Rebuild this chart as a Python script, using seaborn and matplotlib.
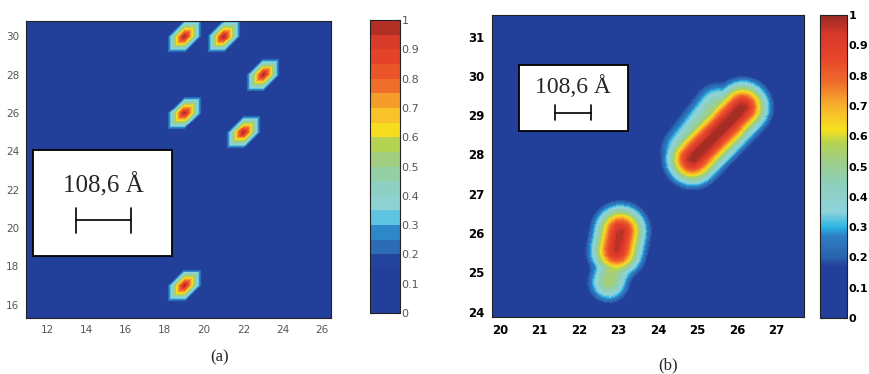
import numpy as np
import matplotlib
matplotlib.use("Agg")
import matplotlib.pyplot as plt
import matplotlib.tri as mtri
from matplotlib.colors import LinearSegmentedColormap, Normalize
from matplotlib.cm import ScalarMappable
from matplotlib.patches import Rectangle
import seaborn as sns

# Panel (a): isolated peaks sitting on the unit grid
peaks_a_x = [19, 21, 23, 19, 22, 19]
peaks_a_y = [30, 30, 28, 26, 25, 17]
peaks_a_val = [1.0, 1.0, 1.0, 1.0, 1.0, 1.0]

# Panel (b): elongated ridges, segment (x0, y0) -> (x1, y1), width and height
ridges_b_x0 = [24.87, 24.75, 23.05, 22.9]
ridges_b_y0 = [27.88, 28.10, 26.05, 25.2]
ridges_b_x1 = [26.14, 25.55, 22.95, 22.75]
ridges_b_y1 = [29.20, 29.15, 25.55, 24.75]
ridges_b_sigma = [0.42, 0.45, 0.42, 0.35]
ridges_b_amp = [1.0, 0.55, 0.97, 0.55]

cbar_ticks = [0, 0.1, 0.2, 0.3, 0.4, 0.5, 0.6, 0.7, 0.8, 0.9, 1]
cbar_labels = ['0', '0.1', '0.2', '0.3', '0.4', '0.5', '0.6', '0.7', '0.8', '0.9', '1']
xticks_a = [12, 14, 16, 18, 20, 22, 24, 26]
yticks_a = [16, 18, 20, 22, 24, 26, 28, 30]
xticks_b = [20, 21, 22, 23, 24, 25, 26, 27]
yticks_b = [24, 25, 26, 27, 28, 29, 30, 31]
scale_label = '108,6 Å'

sns.set_theme(style="white")
plt.rcParams['font.family'] = ['DejaVu Sans']

# washed-out jet, as in the scanned figure
cmap = LinearSegmentedColormap.from_list('scanjet', [
    (0.00, '#22409a'), (0.17, '#22409a'), (0.20, '#2a63ae'), (0.27, '#2d7fc4'),
    (0.30, '#2bb4e4'), (0.35, '#8fd3dc'), (0.45, '#8ecfb8'), (0.52, '#9fce86'),
    (0.58, '#b6d350'), (0.62, '#f6e11e'), (0.68, '#f8c02a'), (0.73, '#f49a2a'),
    (0.78, '#ee6b2a'), (0.86, '#e8462a'), (0.94, '#d6382b'), (1.00, '#9a2a22'),
])

fig = plt.figure(figsize=(8.69, 3.74), dpi=100)
ax_a = fig.add_axes([0.0299, 0.1497, 0.351, 0.794])
cax_a = fig.add_axes([0.4258, 0.1631, 0.0345, 0.7834])
ax_b = fig.add_axes([0.5658, 0.1532, 0.3594, 0.8067])
cax_b = fig.add_axes([0.9436, 0.1497, 0.0311, 0.810])

# ---- panel (a): unit grid, triangles split along "/" -> hexagonal blobs
gx = np.arange(10, 29)
gy = np.arange(14, 33)
GX, GY = np.meshgrid(gx, gy)
Z = np.zeros_like(GX, dtype=float)
for px, py, pv in zip(peaks_a_x, peaks_a_y, peaks_a_val):
    Z[(GX == px) & (GY == py)] = pv
nx = len(gx)
tris = []
for j in range(len(gy) - 1):
    for i in range(nx - 1):
        a = j * nx + i
        tris.append([a, a + 1, a + nx + 1])
        tris.append([a, a + nx + 1, a + nx])
tri = mtri.Triangulation(GX.ravel(), GY.ravel(), tris)
levels_a = np.linspace(0, 1, 21)
cs_a = ax_a.tricontourf(tri, Z.ravel(), levels=levels_a, cmap=cmap, vmin=0, vmax=1)
ax_a.set_xlim(10.93, 26.45)
ax_a.set_ylim(15.3, 30.8)

# ---- panel (b): ridges on a fine grid
bx = np.arange(19.5, 28.01, 0.15)
by = np.arange(23.5, 32.01, 0.15)
BX, BY = np.meshgrid(bx, by)
ZB = np.zeros_like(BX)
for x0, y0, x1, y1, s, amp in zip(ridges_b_x0, ridges_b_y0, ridges_b_x1,
                                   ridges_b_y1, ridges_b_sigma, ridges_b_amp):
    dx, dy = x1 - x0, y1 - y0
    t = ((BX - x0) * dx + (BY - y0) * dy) / (dx * dx + dy * dy)
    t = np.clip(t, 0, 1)
    d2 = (BX - (x0 + t * dx)) ** 2 + (BY - (y0 + t * dy)) ** 2
    ZB = np.maximum(ZB, amp * np.exp(-d2 / (2 * s * s)))
levels_b = np.linspace(0, 1, 41)
ax_b.contourf(BX, BY, ZB, levels=levels_b, cmap=cmap, vmin=0, vmax=1)
ax_b.set_xlim(19.79, 27.69)
ax_b.set_ylim(23.87, 31.55)

# ---- scale boxes
def scale_box(ax, x0, y0, w, h, tx, ty, bx0, bx1, by_, tick_h, fs):
    ax.add_patch(Rectangle((x0, y0), w, h, facecolor='white', edgecolor='black',
                           lw=1.3, zorder=5))
    ax.text(tx, ty, scale_label, ha='center', va='center', fontsize=fs,
            family='Liberation Serif', zorder=6)
    ax.plot([bx0, bx1], [by_, by_], color='black', lw=1.2, zorder=6)
    for xx in (bx0, bx1):
        ax.plot([xx, xx], [by_ - tick_h, by_ + tick_h], color='black', lw=1.2, zorder=6)

scale_box(ax_a, 11.3, 18.55, 7.05, 5.5, 14.85, 22.25, 13.5, 16.25, 20.4, 0.65, 18)
scale_box(ax_b, 20.49, 28.6, 2.76, 1.68, 21.85, 29.72, 21.38, 22.3, 29.06, 0.19, 17)

# ---- axes styling
for ax, xt, yt, col, wt, fs in [(ax_a, xticks_a, yticks_a, '#555555', 'normal', 7.5),
                                (ax_b, xticks_b, yticks_b, 'black', 'bold', 8.5)]:
    ax.set_xticks(xt)
    ax.set_yticks(yt)
    ax.tick_params(direction='in', length=3, width=0.6, labelsize=fs,
                   labelcolor=col, color='#333333', top=True, right=True,
                   bottom=True, left=True, pad=5)
    for lab in ax.get_xticklabels() + ax.get_yticklabels():
        lab.set_fontweight(wt)
    for sp in ax.spines.values():
        sp.set_visible(True)
        sp.set_color('#222222')
        sp.set_linewidth(0.8)

cb_a = fig.colorbar(cs_a, cax=cax_a, ticks=cbar_ticks)
cb_b = fig.colorbar(ScalarMappable(norm=Normalize(0, 1), cmap=cmap), cax=cax_b,
                    ticks=cbar_ticks)
for cb, col, wt in [(cb_a, '#555555', 'normal'), (cb_b, 'black', 'bold')]:
    cb.ax.set_yticklabels(cbar_labels)
    cb.ax.tick_params(direction='in', length=3, width=0.8, labelsize=8,
                      labelcolor=col, color='#222222', left=True, right=True, pad=1)
    for lab in cb.ax.get_yticklabels():
        lab.set_fontweight(wt)
    cb.outline.set_edgecolor('#222222')
    cb.outline.set_linewidth(0.8)

fig.text(220 / 869, 1 - 357 / 374, '(a)', ha='center', va='center',
         fontsize=12, family='Liberation Serif')
fig.text(668 / 869, 1 - 365 / 374, '(b)', ha='center', va='center',
         fontsize=12, family='Liberation Serif')

fig.savefig('out.png', dpi=100, facecolor='white')
